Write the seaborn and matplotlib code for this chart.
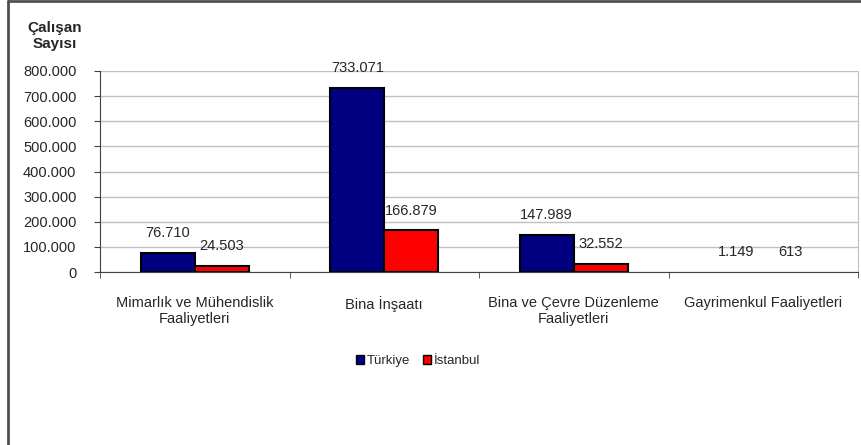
import pandas as pd
import matplotlib.pyplot as plt
import seaborn as sns
from matplotlib.ticker import FuncFormatter, FixedLocator
from matplotlib.patches import Patch
from matplotlib.lines import Line2D

# Data
categories = ['Mimarlık ve Mühendislik\nFaaliyetleri', 'Bina İnşaatı',
              'Bina ve Çevre Düzenleme\nFaaliyetleri', 'Gayrimenkul Faaliyetleri']
turkiye = [76710, 733071, 147989, 1149]
istanbul = [24503, 166879, 32552, 613]
regions = ['Türkiye', 'İstanbul']
colors = ['#000080', '#FF0000']

df = pd.DataFrame({
    'Faaliyet': categories * 2,
    'Bolge': [regions[0]] * 4 + [regions[1]] * 4,
    'Calisan': turkiye + istanbul,
})

sns.set_style('white')
plt.rcParams['font.family'] = ['Liberation Sans', 'DejaVu Sans']

fig = plt.figure(figsize=(8.61, 4.45), dpi=100)
ax = fig.add_axes([100 / 861, 1 - 272 / 445, 758 / 861, 201 / 445])

sns.barplot(data=df, x='Faaliyet', y='Calisan', hue='Bolge', palette=colors,
            saturation=1, edgecolor='black', linewidth=1.5, width=0.57, ax=ax,
            legend=False)

ax.set_ylim(0, 800000)
ax.set_xlim(-0.5, 3.5)
ax.yaxis.set_major_locator(FixedLocator(range(0, 800001, 100000)))
ax.yaxis.set_major_formatter(FuncFormatter(lambda v, p: f'{int(v):,}'.replace(',', '.')))
ax.grid(axis='y', color='#c0c0c0', linewidth=1)
ax.set_axisbelow(True)

ax.spines['top'].set_visible(False)
ax.spines['right'].set_color('#c0c0c0')
ax.spines['left'].set_color('#404040')
ax.spines['bottom'].set_color('#404040')

ax.tick_params(axis='y', left=True, length=4, color='#404040', labelsize=10.5, pad=13)
ax.tick_params(axis='x', which='major', length=0, labelsize=10.5, pad=17)
ax.set_xticks([-0.5, 0.5, 1.5, 2.5, 3.5], minor=True)
ax.tick_params(axis='x', which='minor', bottom=True, length=4, color='#404040')
ax.set_xlabel('')
ax.set_ylabel('')

# value labels
for cont in ax.containers:
    for bar in cont:
        h = bar.get_height()
        if h < 5000:
            bar.set_linewidth(0)
        ax.annotate(f'{int(h):,}'.replace(',', '.'),
                    (bar.get_x() + bar.get_width() / 2, h),
                    xytext=(0, 9), textcoords='offset points',
                    ha='center', va='bottom', fontsize=10.5)

# y axis title
fig.text(55 / 861, 1 - 36 / 445, 'Çalışan\nSayısı', ha='center', va='center',
         fontsize=11, fontweight='bold', linespacing=1.25)

# legend
handles = [Patch(facecolor=c, edgecolor='black', label=r) for c, r in zip(colors, regions)]
fig.legend(handles=handles, loc='center', bbox_to_anchor=(418 / 861, 1 - 361 / 445),
           ncol=2, frameon=False, fontsize=9.5, handlelength=0.6, handleheight=0.6,
           handletextpad=0.2, columnspacing=1.0)

# outer frame (left and top edges)
fig.add_artist(Line2D([8 / 861, 8 / 861], [0, 1 - 1 / 445], color='#505050', linewidth=2,
                      transform=fig.transFigure))
fig.add_artist(Line2D([8 / 861, 1], [1 - 1 / 445, 1 - 1 / 445], color='#505050', linewidth=2,
                      transform=fig.transFigure))

plt.savefig('out.png', dpi=100)
